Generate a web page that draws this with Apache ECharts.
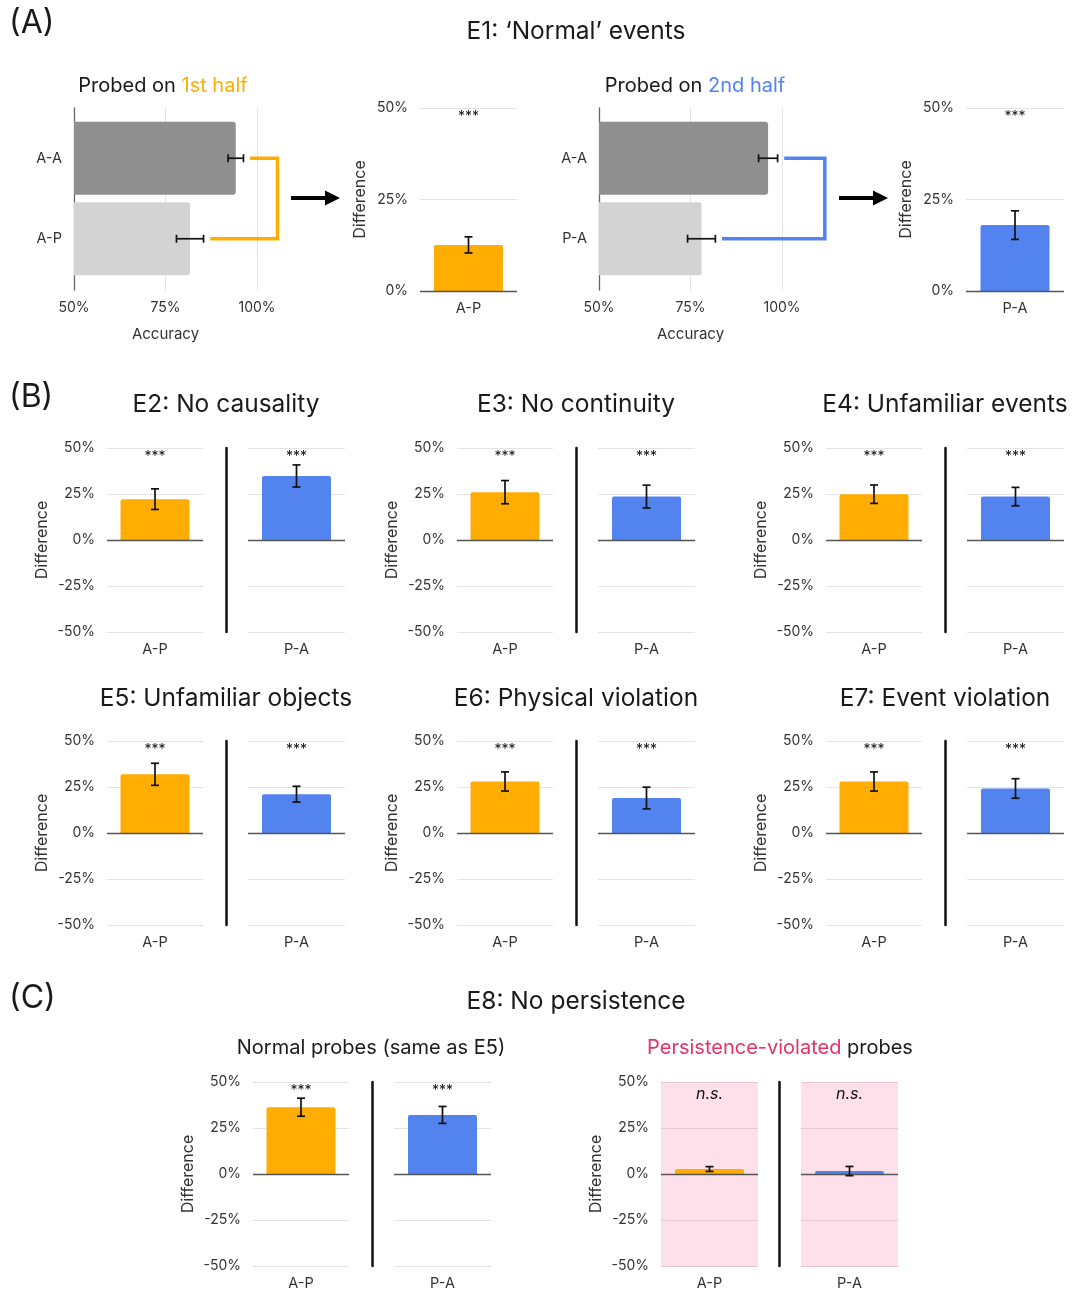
<!DOCTYPE html>
<html><head><meta charset="utf-8">
<script src="https://cdn.jsdelivr.net/npm/echarts@6/dist/echarts.min.js"></script>
<style>html,body{margin:0;padding:0;background:#fff}#c{width:1077px;height:1291px}</style>
</head><body><div id="c"></div><script>
// ---------------- DATA ----------------
const half1Categories = ['A-A', 'A-P'];
const half1Accuracy = [94.2, 81.7];
const half1AccErr = [2.1, 3.7];
const half2Categories = ['A-A', 'P-A'];
const half2Accuracy = [96.2, 78.0];
const half2AccErr = [2.6, 3.8];

const e1Categories = ['A-P', 'P-A'];
const e1Diff = [12.6, 18.0];
const e1DiffErr = [2.2, 3.9];
const e1Sig = ['***', '***'];

const experimentTitles = ['E2: No causality', 'E3: No continuity', 'E4: Unfamiliar events',
  'E5: Unfamiliar objects', 'E6: Physical violation', 'E7: Event violation'];
const diffCategories = ['A-P', 'P-A'];
const apDiff = [22.2, 26.0, 24.9, 31.9, 28.0, 28.0];
const apErr = [5.6, 6.3, 5.0, 6.0, 5.2, 5.2];
const paDiff = [34.8, 23.6, 23.6, 21.1, 19.0, 24.2];
const paErr = [6.0, 6.2, 5.0, 4.3, 5.9, 5.3];
const bSig = ['***', '***'];

const e8NormalDiff = [36.3, 32.1];
const e8NormalErr = [4.9, 4.6];
const e8NormalSig = ['***', '***'];
const e8ViolatedDiff = [2.7, 1.6];
const e8ViolatedErr = [1.3, 2.5];
const e8ViolatedSig = ['n.s.', 'n.s.'];

const diffTicks = { min: -50, max: 50, step: 25 };
const e1Ticks = { min: 0, max: 50, step: 25 };
const accTicks = { min: 50, max: 100, step: 25 };

// ---------------- STYLE ----------------
const FONT = "Inter, 'Open Sans', sans-serif";
const ORANGE = '#FFAD00', BLUE = '#5283EF', PINK_BG = '#FDE0EA', PINK_TXT = '#E8306B';
const TXT = '#1a1a1a', LBL = '#333';

const grids = [], xAxes = [], yAxes = [], series = [], graphics = [];
function addGrid(g) { grids.push(Object.assign({ containLabel: false, outerBoundsMode: 'none' }, g)); return grids.length - 1; }

function vErrRender(sig, yMax, sigDy, italic) {
  return function (params, api) {
    const x = api.value(0), v = api.value(1), e = api.value(2);
    const p1 = api.coord([x, v + e]), p2 = api.coord([x, v - e]);
    const hw = 4, st = { stroke: '#111', lineWidth: 1.7 };
    const t = api.coord([x, yMax]);
    return { type: 'group', children: [
      { type: 'line', shape: { x1: p1[0], y1: p1[1], x2: p2[0], y2: p2[1] }, style: st },
      { type: 'line', shape: { x1: p1[0] - hw, y1: p1[1], x2: p1[0] + hw, y2: p1[1] }, style: st },
      { type: 'line', shape: { x1: p2[0] - hw, y1: p2[1], x2: p2[0] + hw, y2: p2[1] }, style: st },
      { type: 'text', x: t[0], y: t[1] + sigDy, style: { text: sig, align: 'center', verticalAlign: 'middle',
        font: (italic ? 'italic ' : '') + (italic ? '16px ' : '14px ') + FONT, fill: '#111' } }
    ] };
  };
}
function hErrRender(params, api) {
  const y = api.value(1), v = api.value(0), e = api.value(2);
  const p1 = api.coord([v - e, y]), p2 = api.coord([v + e, y]);
  const hh = 4, st = { stroke: '#111', lineWidth: 1.7 };
  return { type: 'group', children: [
    { type: 'line', shape: { x1: p1[0], y1: p1[1], x2: p2[0], y2: p2[1] }, style: st },
    { type: 'line', shape: { x1: p1[0], y1: p1[1] - hh, x2: p1[0], y2: p1[1] + hh }, style: st },
    { type: 'line', shape: { x1: p2[0], y1: p2[1] - hh, x2: p2[0], y2: p2[1] + hh }, style: st }
  ] };
}

function diffChart(o) {
  const gi = addGrid({ left: o.left, top: o.top, width: o.width, height: o.height,
    show: !!o.bg, backgroundColor: o.bg || 'transparent', borderWidth: 0 });
  xAxes.push({ gridIndex: gi, type: 'category', data: [o.cat], axisLine: { show: false }, axisTick: { show: false },
    axisLabel: { fontFamily: FONT, fontSize: 14.5, color: LBL, margin: 10 } });
  yAxes.push({ gridIndex: gi, type: 'value', min: o.ticks.min, max: o.ticks.max, interval: o.ticks.step,
    offset: o.divider || 0,
    axisLabel: { show: !!o.showLabels, formatter: '{value}%', fontFamily: FONT, fontSize: 14, color: LBL, margin: 12 },
    axisLine: { show: !!o.divider, lineStyle: { color: '#111', width: 2.5 } },
    axisTick: { show: false },
    splitLine: { lineStyle: { color: o.bg ? '#EAC5D2' : '#E4E4E4', width: 1 } },
    name: o.showLabels ? 'Difference' : '', nameLocation: 'middle', nameGap: o.nameGap || 57,
    nameTextStyle: { fontFamily: FONT, fontSize: 16, color: LBL } });
  series.push({ type: 'bar', xAxisIndex: gi, yAxisIndex: gi, data: [o.value], barWidth: 69,
    itemStyle: { color: o.color, borderRadius: [2, 2, 0, 0] },
    markLine: { silent: true, symbol: ['none', 'none'], label: { show: false },
      lineStyle: { color: '#555', width: 1.3, type: 'solid' }, data: [{ yAxis: 0 }] } });
  series.push({ type: 'custom', xAxisIndex: gi, yAxisIndex: gi, z: 5, data: [[0, o.value, o.err]],
    renderItem: vErrRender(o.sig, o.ticks.max, o.sigDy || 9, o.sig === 'n.s.') });
}

function accChart(o) {
  const g0 = addGrid({ left: o.left, top: 108, width: 183, height: 182 });
  xAxes.push({ gridIndex: g0, type: 'value', min: accTicks.min, max: accTicks.max, interval: accTicks.step,
    axisLabel: { formatter: '{value}%', fontFamily: FONT, fontSize: 14, color: LBL, margin: 11 },
    axisLine: { show: false }, axisTick: { show: false }, splitLine: { lineStyle: { color: '#E4E4E4' } },
    name: 'Accuracy', nameLocation: 'middle', nameGap: 37, nameTextStyle: { fontFamily: FONT, fontSize: 15, color: LBL } });
  yAxes.push({ gridIndex: g0, type: 'value', min: 0, max: 1, axisLabel: { show: false }, axisTick: { show: false },
    splitLine: { show: false }, axisLine: { show: true, lineStyle: { color: '#666', width: 1.3 } } });
  const g1 = addGrid({ left: o.left, top: 118, width: 183, height: 161 });
  xAxes.push({ gridIndex: g1, type: 'value', min: accTicks.min, max: accTicks.max, show: false });
  yAxes.push({ gridIndex: g1, type: 'category', data: o.cats, inverse: true, axisLine: { show: false },
    axisTick: { show: false }, axisLabel: { fontFamily: FONT, fontSize: 14.5, color: LBL, margin: 12 } });
  const shades = ['#8F8F8F', '#D3D3D3'];
  series.push({ type: 'bar', xAxisIndex: g1, yAxisIndex: g1, barWidth: 73,
    data: o.values.map((v, i) => ({ value: v, itemStyle: { color: shades[i], borderRadius: [0, 3, 3, 0] } })) });
  series.push({ type: 'custom', xAxisIndex: g1, yAxisIndex: g1, z: 5,
    data: o.values.map((v, i) => [v, i, o.errs[i]]), renderItem: hErrRender });
  const gap = 1.8;
  series.push({ type: 'line', xAxisIndex: g1, yAxisIndex: g1, clip: false, symbol: 'none', z: 4,
    lineStyle: { color: o.color, width: 3.5, join: 'miter', cap: 'butt' },
    data: [[o.values[0] + o.errs[0] + gap, 0], [o.corner, 0], [o.corner, 1], [o.values[1] + o.errs[1] + gap, 1]] });
}

// ---- Panel A ----
accChart({ left: 74, cats: half1Categories, values: half1Accuracy, errs: half1AccErr, color: ORANGE, corner: 105.6 });
accChart({ left: 599, cats: half2Categories, values: half2Accuracy, errs: half2AccErr, color: BLUE, corner: 111.7 });
diffChart({ left: 420, top: 108, width: 97, height: 183, ticks: e1Ticks, cat: e1Categories[0], value: e1Diff[0],
  err: e1DiffErr[0], sig: e1Sig[0], color: ORANGE, showLabels: true, nameGap: 52 });
diffChart({ left: 966, top: 108, width: 98, height: 183, ticks: e1Ticks, cat: e1Categories[1], value: e1Diff[1],
  err: e1DiffErr[1], sig: e1Sig[1], color: BLUE, showLabels: true, nameGap: 52 });

// ---- Panel B ----
const colLefts = [107, 457, 826];
const rowTops = [448, 741];
for (let i = 0; i < 6; i++) {
  const L = colLefts[i % 3], T = rowTops[Math.floor(i / 3)];
  diffChart({ left: L, top: T, width: 96, height: 184, ticks: diffTicks, cat: diffCategories[0], value: apDiff[i],
    err: apErr[i], sig: bSig[0], color: ORANGE, showLabels: true });
  diffChart({ left: L + 141, top: T, width: 97, height: 184, ticks: diffTicks, cat: diffCategories[1], value: paDiff[i],
    err: paErr[i], sig: bSig[1], color: BLUE, divider: 22 });
}

// ---- Panel C ----
diffChart({ left: 253, top: 1082, width: 96, height: 184, ticks: diffTicks, cat: diffCategories[0], value: e8NormalDiff[0],
  err: e8NormalErr[0], sig: e8NormalSig[0], color: ORANGE, showLabels: true });
diffChart({ left: 394, top: 1082, width: 97, height: 184, ticks: diffTicks, cat: diffCategories[1], value: e8NormalDiff[1],
  err: e8NormalErr[1], sig: e8NormalSig[1], color: BLUE, divider: 22 });
diffChart({ left: 661, top: 1082, width: 97, height: 184, ticks: diffTicks, cat: diffCategories[0], value: e8ViolatedDiff[0],
  err: e8ViolatedErr[0], sig: e8ViolatedSig[0], color: ORANGE, showLabels: true, bg: PINK_BG, sigDy: 12 });
diffChart({ left: 801, top: 1082, width: 97, height: 184, ticks: diffTicks, cat: diffCategories[1], value: e8ViolatedDiff[1],
  err: e8ViolatedErr[1], sig: e8ViolatedSig[1], color: BLUE, divider: 22, bg: PINK_BG, sigDy: 12 });

// ---- Text & arrows ----
function txt(x, y, text, size, align, rich) {
  return { type: 'text', x: x, y: y, style: { text: text, font: size + 'px ' + FONT, fill: TXT,
    align: align || 'center', verticalAlign: 'middle', rich: rich } };
}
function richColor(c, size) { return { fill: c, font: size + 'px ' + FONT, fontSize: size, fontFamily: FONT }; }
function arrow(x, y) {
  return { type: 'group', children: [
    { type: 'rect', shape: { x: x, y: y - 2, width: 36, height: 4 }, style: { fill: '#000' } },
    { type: 'polygon', shape: { points: [[x + 34, y - 7.5], [x + 49, y], [x + 34, y + 7.5]] }, style: { fill: '#000' } }
  ] };
}
graphics.push(txt(9, 23, '(A)', 32, 'left'));
graphics.push(txt(576, 32, 'E1: \u2018Normal\u2019 events', 24.5));
graphics.push(txt(163, 86, '{k|Probed on }{o|1st half}', 20, 'center', { k: richColor(TXT, 20), o: richColor(ORANGE, 20) }));
graphics.push(txt(695, 86, '{k|Probed on }{o|2nd half}', 20, 'center', { k: richColor(TXT, 20), o: richColor(BLUE, 20) }));
graphics.push(arrow(291, 198));
graphics.push(arrow(839, 198));
graphics.push(txt(9, 397, '(B)', 32, 'left'));
const titleCenters = [226, 576, 945], titleYs = [405, 699];
for (let i = 0; i < 6; i++) graphics.push(txt(titleCenters[i % 3], titleYs[Math.floor(i / 3)], experimentTitles[i], 24.5));
graphics.push(txt(9, 998, '(C)', 32, 'left'));
graphics.push(txt(576, 1002, 'E8: No persistence', 24.5));
graphics.push(txt(371, 1048, 'Normal probes (same as E5)', 20));
graphics.push(txt(780, 1048, '{p|Persistence-violated}{k| probes}', 20, 'center', { p: richColor(PINK_TXT, 20), k: richColor(TXT, 20) }));

const chart = echarts.init(document.getElementById('c'), null, { renderer: 'canvas' });
chart.setOption({ animation: false, backgroundColor: '#fff', grid: grids, xAxis: xAxes, yAxis: yAxes, series: series, graphic: graphics });
</script></body></html>
